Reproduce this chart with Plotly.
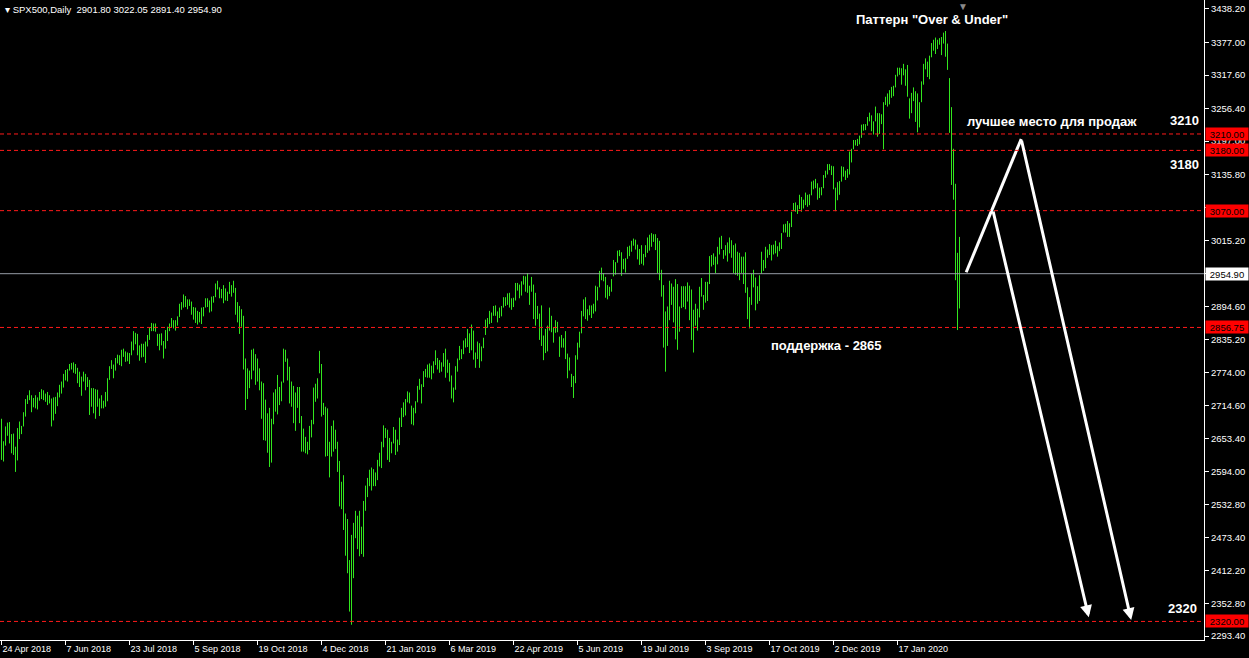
import pandas as pd
import plotly.graph_objects as go

# ---------------- data: daily high / low of SPX500 (one line per month) ----------------
HIGH = [
    2690, 2649, 2676, 2683, 2684,  # Apr 2018
    2662, 2663, 2639, 2673, 2685, 2677, 2702, 2726, 2733, 2742, 2733, 2728, 2733, 2729, 2739, 2744, 2742, 2736, 2739, 2733, 2727, 2729, 2730,  # May
    2738, 2752, 2758, 2772, 2779, 2781, 2790, 2792, 2793, 2790, 2783, 2776, 2767, 2776, 2772, 2766, 2761, 2746, 2746, 2744, 2743,  # Jun
    2727, 2733, 2723, 2739, 2764, 2786, 2797, 2789, 2801, 2807, 2806, 2816, 2818, 2813, 2811, 2810, 2831, 2850, 2847, 2845, 2824, 2827,  # Jul
    2827, 2831, 2843, 2856, 2865, 2864, 2864, 2845, 2845, 2846, 2832, 2852, 2858, 2864, 2874, 2870, 2870, 2877, 2900, 2903, 2917, 2914, 2908,  # Aug
    2908, 2904, 2894, 2893, 2887, 2885, 2893, 2894, 2910, 2910, 2906, 2913, 2914, 2937, 2942, 2930, 2927, 2934, 2928, 2922,  # Sep
    2940, 2934, 2942, 2929, 2903, 2896, 2890, 2878, 2800, 2782, 2778, 2816, 2818, 2808, 2800, 2782, 2758, 2755, 2725, 2700, 2710, 2690, 2738,  # Oct
    2744, 2770, 2748, 2758, 2818, 2816, 2800, 2785, 2758, 2750, 2738, 2748, 2748, 2695, 2672, 2657, 2648, 2677, 2688, 2747, 2754, 2764,  # Nov
    2814, 2790, 2719, 2712, 2709, 2648, 2677, 2687, 2670, 2648, 2613, 2575, 2587, 2517, 2507, 2432, 2478, 2500, 2522, 2513,  # Dec
    2522, 2493, 2540, 2568, 2582, 2597, 2601, 2598, 2592, 2615, 2628, 2648, 2678, 2673, 2670, 2655, 2648, 2675, 2670, 2652, 2692, 2710,  # Jan 2019
    2720, 2726, 2740, 2738, 2714, 2710, 2722, 2750, 2763, 2753, 2777, 2781, 2789, 2791, 2787, 2795, 2815, 2801, 2797, 2793,  # Feb
    2810, 2818, 2798, 2792, 2769, 2747, 2786, 2800, 2823, 2817, 2833, 2837, 2854, 2846, 2862, 2851, 2811, 2831, 2828, 2822, 2838,  # Mar
    2871, 2874, 2887, 2884, 2896, 2897, 2886, 2893, 2896, 2912, 2912, 2919, 2920, 2910, 2911, 2938, 2938, 2935, 2941, 2951, 2950,  # Apr
    2956, 2933, 2949, 2935, 2920, 2896, 2882, 2897, 2842, 2854, 2860, 2893, 2878, 2857, 2870, 2867, 2840, 2843, 2837, 2850, 2809, 2802, 2772,  # May
    2768, 2806, 2829, 2849, 2887, 2908, 2912, 2890, 2897, 2897, 2900, 2933, 2931, 2960, 2966, 2956, 2949, 2934, 2931, 2945,  # Jun
    2980, 2976, 2997, 2998, 2994, 2982, 2983, 3004, 3006, 3015, 3019, 3017, 3008, 3000, 3007, 2991, 3007, 3021, 3026, 3029, 3027, 3027, 3020,  # Jul
    3015, 2962, 2934, 2886, 2895, 2942, 2937, 2931, 2945, 2936, 2895, 2932, 2932, 2932, 2939, 2933, 2926, 2889, 2900, 2891, 2931, 2947,  # Aug
    2916, 2940, 2940, 2987, 2989, 2992, 2986, 3004, 3021, 3024, 2998, 3007, 3012, 3021, 3016, 3007, 3010, 2995, 2993, 2986, 2986,  # Sep
    2994, 2930, 2912, 2955, 2962, 2948, 2932, 2952, 2995, 2980, 3004, 2999, 3009, 3007, 3008, 3015, 3005, 3012, 3029, 3045, 3046, 3051, 3047,  # Oct
    3068, 3084, 3085, 3080, 3099, 3095, 3090, 3103, 3099, 3100, 3123, 3125, 3128, 3120, 3112, 3113, 3135, 3143, 3155, 3155, 3152,  # Nov
    3151, 3112, 3122, 3124, 3151, 3150, 3143, 3146, 3178, 3183, 3199, 3199, 3201, 3207, 3227, 3228, 3228, 3241, 3249, 3244, 3233,  # Dec
    3260, 3248, 3248, 3246, 3268, 3278, 3284, 3290, 3296, 3298, 3318, 3331, 3331, 3330, 3338, 3328, 3336, 3275, 3285, 3295, 3288, 3284,  # Jan 2020
    3268, 3306, 3338, 3348, 3342, 3353, 3376, 3382, 3386, 3382, 3385, 3387, 3395, 3398, 3375, 3312, 3259, 3183, 3119, 2993,  # Feb
    3022.05,  # Mar 2
]
LOW = [
    2615, 2612, 2641, 2659, 2645,  # Apr 2018
    2627, 2624, 2593, 2614, 2653, 2662, 2676, 2694, 2717, 2724, 2702, 2711, 2709, 2707, 2723, 2726, 2724, 2721, 2715, 2718, 2676, 2687, 2699,  # May
    2713, 2729, 2736, 2747, 2760, 2758, 2778, 2780, 2774, 2772, 2755, 2748, 2732, 2758, 2742, 2748, 2697, 2712, 2700, 2690, 2712,  # Jun
    2695, 2709, 2709, 2712, 2722, 2761, 2781, 2764, 2778, 2791, 2788, 2786, 2803, 2794, 2795, 2790, 2806, 2815, 2826, 2806, 2796, 2802,  # Jul
    2803, 2792, 2822, 2834, 2850, 2850, 2849, 2823, 2815, 2824, 2800, 2818, 2832, 2850, 2857, 2855, 2851, 2860, 2876, 2889, 2893, 2894, 2890,  # Aug
    2896, 2880, 2871, 2865, 2862, 2866, 2863, 2877, 2893, 2894, 2884, 2886, 2902, 2912, 2926, 2910, 2910, 2901, 2906, 2905,  # Sep
    2918, 2913, 2920, 2880, 2866, 2845, 2858, 2780, 2706, 2726, 2746, 2762, 2778, 2752, 2758, 2742, 2690, 2651, 2650, 2628, 2602, 2610, 2680,  # Oct
    2703, 2698, 2715, 2722, 2756, 2794, 2760, 2718, 2712, 2682, 2668, 2710, 2682, 2630, 2630, 2627, 2625, 2633, 2656, 2680, 2721, 2727,  # Nov
    2773, 2694, 2697, 2621, 2622, 2583, 2621, 2630, 2635, 2593, 2530, 2525, 2487, 2440, 2408, 2338, 2314, 2399, 2472, 2452,  # Dec
    2439, 2443, 2438, 2522, 2547, 2567, 2559, 2567, 2567, 2578, 2603, 2600, 2638, 2655, 2615, 2611, 2627, 2645, 2624, 2630, 2642, 2675,  # Jan 2019
    2693, 2696, 2720, 2718, 2680, 2678, 2700, 2720, 2743, 2718, 2748, 2766, 2765, 2765, 2762, 2773, 2788, 2780, 2774, 2776,  # Feb
    2785, 2765, 2774, 2758, 2727, 2720, 2743, 2776, 2797, 2799, 2808, 2820, 2821, 2810, 2815, 2798, 2783, 2799, 2783, 2795, 2819,  # Mar
    2843, 2856, 2863, 2865, 2878, 2878, 2866, 2874, 2877, 2893, 2896, 2898, 2893, 2889, 2894, 2906, 2924, 2910, 2915, 2935, 2922,  # Apr
    2920, 2898, 2922, 2872, 2860, 2872, 2834, 2823, 2797, 2810, 2813, 2851, 2848, 2829, 2847, 2848, 2803, 2820, 2820, 2799, 2764, 2778, 2748,  # May
    2728, 2755, 2798, 2820, 2846, 2877, 2872, 2869, 2879, 2874, 2882, 2886, 2906, 2930, 2943, 2941, 2911, 2908, 2914, 2922,  # Jun
    2950, 2953, 2975, 2987, 2951, 2963, 2957, 2982, 2987, 2995, 3006, 2999, 2981, 2971, 2973, 2970, 2985, 2993, 2997, 3004, 3013, 2998, 2956,  # Jul
    2943, 2913, 2820, 2776, 2823, 2870, 2898, 2866, 2835, 2816, 2849, 2892, 2894, 2890, 2904, 2870, 2834, 2811, 2860, 2851, 2875, 2913,  # Aug
    2889, 2902, 2905, 2936, 2968, 2971, 2956, 2972, 2990, 3000, 2982, 2988, 2977, 2992, 2984, 2956, 2953, 2951, 2943, 2956, 2936,  # Sep
    2920, 2872, 2855, 2898, 2930, 2888, 2900, 2905, 2955, 2960, 2965, 2984, 2989, 2979, 2990, 2992, 2986, 2996, 3000, 3030, 3030, 3022, 3022,  # Oct
    3040, 3069, 3068, 3064, 3073, 3068, 3074, 3080, 3077, 3080, 3098, 3109, 3111, 3090, 3093, 3098, 3111, 3130, 3136, 3144, 3135,  # Nov
    3109, 3069, 3089, 3099, 3123, 3132, 3126, 3130, 3136, 3158, 3182, 3189, 3188, 3191, 3203, 3216, 3217, 3225, 3233, 3215, 3209,  # Dec
    3233, 3205, 3210, 3228, 3182, 3263, 3260, 3264, 3276, 3279, 3295, 3315, 3318, 3300, 3317, 3298, 3278, 3238, 3248, 3270, 3232, 3213,  # Jan 2020
    3222, 3268, 3300, 3328, 3314, 3310, 3350, 3362, 3356, 3365, 3373, 3354, 3375, 3351, 3327, 3212, 3117, 3090, 2943, 2852,  # Feb
    2891.40,  # Mar 2
]

CLOSED_DAYS = ["2018-12-25", "2019-01-01", "2019-04-19", "2019-12-25", "2020-01-01"]
DATE_LABELS = ["24 Apr 2018", "7 Jun 2018", "23 Jul 2018", "5 Sep 2018", "19 Oct 2018",
               "4 Dec 2018", "21 Jan 2019", "6 Mar 2019", "22 Apr 2019", "5 Jun 2019",
               "19 Jul 2019", "3 Sep 2019", "17 Oct 2019", "2 Dec 2019", "17 Jan 2020"]
PRICE_TICKS = [3438.20, 3377.00, 3317.60, 3256.40, 3197.00, 3135.80, 3075.00, 3015.20,
               2955.00, 2894.60, 2835.20, 2774.00, 2714.60, 2653.40, 2594.00, 2532.80,
               2473.40, 2412.20, 2352.80, 2293.40]
PRICE_TICK_TEXT = ["3438.20", "3377.00", "3317.60", "3256.40", "3197.00", "3135.80", "", "3015.20",
                   "", "2894.60", "2835.20", "2774.00", "2714.60", "2653.40", "2594.00", "2532.80",
                   "2473.40", "2412.20", "2352.80", "2293.40"]
LEVELS = [3210.00, 3180.00, 3070.00, 2856.75, 2320.00]
BID = 2954.90
LAST_OHLC = [2901.80, 3022.05, 2891.40, 2954.90]

# hand-drawn arrows (bar index, price)
ARROW_START = (482.35, 2957.5)
ARROW_APEX1 = (509.85, 3200.8)
ARROW_APEX2 = (495.65, 3071.2)
ARROW_TIP1 = (564.85, 2322.6)
ARROW_TIP2 = (543.65, 2327.6)

# ---------------- build ----------------
dates = [d for d in pd.bdate_range("2018-04-24", "2020-03-02")
         if d.strftime("%Y-%m-%d") not in CLOSED_DAYS]
date_pos = {d.strftime("%Y-%m-%d"): i for i, d in enumerate(dates)}
tick_pos = [date_pos[pd.to_datetime(s, format="%d %b %Y").strftime("%Y-%m-%d")] for s in DATE_LABELS]

n = min(len(HIGH), len(LOW))
bx, by = [], []
for i in range(n):
    bx += [i, i, None]
    by += [LOW[i], HIGH[i], None]

FONT = "Liberation Sans, Arial, sans-serif"
GREEN = "rgb(50,230,30)"
TICK_SIZE = 9.5

fig = go.Figure()
fig.add_trace(go.Scatter(x=bx, y=by, mode="lines", line=dict(color=GREEN, width=1),
                         hoverinfo="skip", showlegend=False))
fig.add_trace(go.Scatter(x=[ARROW_START[0], ARROW_APEX1[0]], y=[ARROW_START[1], ARROW_APEX1[1]],
                         mode="lines", line=dict(color="white", width=3),
                         hoverinfo="skip", showlegend=False))

shapes = []
for lv in LEVELS:
    shapes.append(dict(type="line", xref="paper", x0=0, x1=1, yref="y", y0=lv, y1=lv,
                       line=dict(color="#ff1a1a", width=1, dash="4px,3px")))
shapes.append(dict(type="line", xref="paper", x0=0, x1=1, yref="y", y0=BID, y1=BID,
                   line=dict(color="rgb(150,156,166)", width=1)))

ann = []
for lv in LEVELS:
    ann.append(dict(xref="paper", x=1, xanchor="left", xshift=1, yref="y", y=lv, yanchor="middle",
                    text=f"{lv:.2f}", showarrow=False, bgcolor="#ff0000", width=42, height=12,
                    borderpad=0, font=dict(family=FONT, size=TICK_SIZE, color="black")))
ann.append(dict(xref="paper", x=1, xanchor="left", xshift=1, yref="y", y=BID, yanchor="middle",
                text=f"{BID:.2f}", showarrow=False, bgcolor="white", width=42, height=12,
                borderpad=0, font=dict(family=FONT, size=TICK_SIZE, color="black")))

title_txt = "▾ SPX500,Daily\u00a0\u00a0" + " ".join(f"{v:.2f}" for v in LAST_OHLC)
ann.append(dict(xref="paper", yref="paper", x=0, y=1, xanchor="left", yanchor="top", xshift=3, yshift=-2,
                text=title_txt, showarrow=False, font=dict(family=FONT, size=TICK_SIZE, color="white")))
ann.append(dict(xref="x", yref="paper", x=480.9, y=1, yanchor="top", yshift=1, text="▼",
                showarrow=False, font=dict(family=FONT, size=10, color="#8a8a8a")))

def label(x, y, txt):
    return dict(xref="x", yref="y", x=x, y=y, text=f"<b>{txt}</b>", showarrow=False,
                xanchor="center", yanchor="middle", font=dict(family=FONT, size=13, color="white"))

ann.append(label(465.0, 3418.1, 'Паттерн "Over &amp; Under"'))
ann.append(label(591.5, 3235.5, "3210"))
ann.append(label(591.5, 3153.4, "3180"))
ann.append(label(590.5, 2344.5, "2320"))
ann.append(label(525.3, 3231.9, "лучшее место для продаж"))
ann.append(label(412.5, 2824.7, "поддержка - 2865"))

for (a, t) in [(ARROW_APEX1, ARROW_TIP1), (ARROW_APEX2, ARROW_TIP2)]:
    ann.append(dict(xref="x", yref="y", axref="x", ayref="y", x=t[0], y=t[1], ax=a[0], ay=a[1],
                    text="", showarrow=True, arrowhead=2, arrowsize=0.8, arrowwidth=3,
                    arrowcolor="white", standoff=0, startstandoff=0))

fig.update_layout(
    width=1249, height=658,
    margin=dict(l=0, r=45, t=0, b=18, pad=0),
    paper_bgcolor="black", plot_bgcolor="black",
    shapes=shapes, annotations=ann, hovermode=False, showlegend=False,
    xaxis=dict(range=[-0.75, 601.25], showgrid=False, zeroline=False, showline=True,
               linecolor="white", linewidth=1, ticks="outside", ticklen=4, tickcolor="white",
               tickvals=tick_pos, ticktext=DATE_LABELS, ticklabelposition="outside right",
               tickfont=dict(family=FONT, size=9, color="white")),
    yaxis=dict(range=[2286.1, 3454.6], side="right", showgrid=False, zeroline=False,
               showline=True, linecolor="white", linewidth=1, ticks="outside", ticklen=4,
               tickcolor="white", tickvals=PRICE_TICKS, ticktext=PRICE_TICK_TEXT,
               tickfont=dict(family=FONT, size=TICK_SIZE, color="white")),
)

fig.write_html("out.html", config={"displayModeBar": False},
               post_script="document.body.style.margin='0';document.body.style.padding='0';"
                           "document.body.style.overflow='hidden';")
